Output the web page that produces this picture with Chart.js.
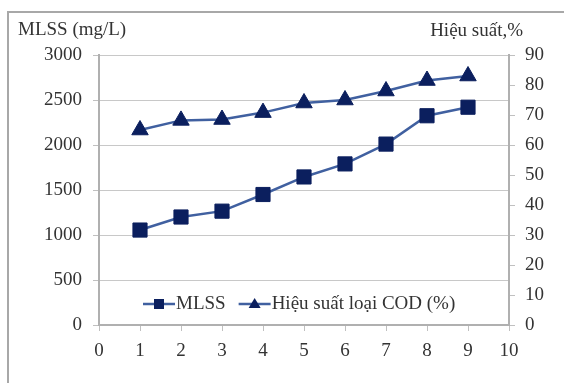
<!DOCTYPE html>
<html>
<head>
<meta charset="utf-8">
<script src="https://cdn.jsdelivr.net/npm/chart.js@4.4.1/dist/chart.umd.min.js"></script>
<style>
  html, body { margin: 0; padding: 0; background: #fff; overflow: hidden; }
  #frame { position: absolute; left: 7px; top: 11px; width: 700px; height: 460px; border: 2px solid #a8a8a8; }
  #wrap { position: absolute; left: 0; top: 0; width: 564px; height: 383px; }
</style>
</head>
<body>
<div id="frame"></div>
<div id="wrap"><canvas class="cod-chart" width="564" height="383"></canvas></div>
<script>
const days = [1, 2, 3, 4, 5, 6, 7, 8, 9];
const mlss = [1055, 1200, 1265, 1450, 1645, 1790, 2010, 2325, 2420];
const codRemoval = [65, 68.2, 68.5, 70.8, 74, 75, 78, 81.5, 83];
const leftTitle = "MLSS (mg/L)";
const rightTitle = "Hiệu suất,%";
const seriesNames = ["MLSS", "Hiệu suất loại COD (%)"];

const navy = "#0b1f5e";
const lineBlue = "#4060a0";
const font = "19px 'Liberation Serif', 'Times New Roman', serif";
const plain = (v) => String(v);

// axis titles and the in-plot legend
const extras = {
  id: "extras",
  afterDraw(chart) {
    const ctx = chart.ctx;
    const area = chart.chartArea;
    ctx.save();
    ctx.font = font;
    ctx.fillStyle = "#333";
    ctx.textBaseline = "middle";
    ctx.textAlign = "left";
    ctx.fillText(leftTitle, 18, 30);
    ctx.textAlign = "right";
    ctx.fillText(rightTitle, 523, 31);

    const y = area.bottom - 21;
    let x = area.left + 44;
    const styles = ["rect", "triangle"];
    seriesNames.forEach((name, i) => {
      ctx.strokeStyle = lineBlue;
      ctx.lineWidth = 2.5;
      ctx.beginPath();
      ctx.moveTo(x, y);
      ctx.lineTo(x + 32, y);
      ctx.stroke();
      ctx.fillStyle = navy;
      const cx = x + 16;
      ctx.beginPath();
      if (styles[i] === "rect") {
        ctx.rect(cx - 5, y - 5, 10, 10);
      } else {
        ctx.moveTo(cx, y - 6);
        ctx.lineTo(cx + 6, y + 4);
        ctx.lineTo(cx - 6, y + 4);
        ctx.closePath();
      }
      ctx.fill();
      ctx.fillStyle = "#333";
      ctx.textAlign = "left";
      ctx.fillText(name, x + 33, y);
      x += 33 + ctx.measureText(name).width + 13;
    });
    ctx.restore();
  }
};

function renderChart() {
  const ctx = document.querySelector(".cod-chart").getContext("2d");

  const mlssPts = days.map((d, i) => ({ x: d, y: mlss[i] }));
  const codPts = days.map((d, i) => ({ x: d, y: codRemoval[i] }));

  new Chart(ctx, {
    type: "line",
    data: {
      datasets: [{
        label: seriesNames[0],
        data: mlssPts,
        yAxisID: "y",
        borderColor: lineBlue,
        borderWidth: 2.5,
        pointStyle: "rect",
        pointRadius: 10,
        pointBackgroundColor: navy,
        pointBorderColor: navy,
        pointBorderWidth: 1,
        tension: 0
      }, {
        label: seriesNames[1],
        data: codPts,
        yAxisID: "y1",
        borderColor: lineBlue,
        borderWidth: 2.5,
        pointStyle: "triangle",
        pointRadius: 9.5,
        pointBackgroundColor: navy,
        pointBorderColor: navy,
        pointBorderWidth: 1,
        tension: 0
      }]
    },
    options: {
      responsive: false,
      animation: false,
      layout: { padding: { top: 55, left: 0, right: 0, bottom: 0 } },
      plugins: {
        legend: { display: false },
        tooltip: { enabled: false }
      },
      scales: {
        x: {
          type: "linear",
          min: 0,
          max: 10,
          afterFit: (s) => { s.height = 58; },
          ticks: { stepSize: 1, callback: plain, color: "#333", font: { family: "'Liberation Serif'", size: 19 }, padding: 9 },
          grid: { drawOnChartArea: false, tickLength: 6, color: "#c0c0c0" },
          border: { color: "#b0b0b0", width: 2 }
        },
        y: {
          position: "left",
          min: 0,
          max: 3000,
          afterFit: (s) => { s.width = 99; },
          ticks: { stepSize: 500, callback: plain, color: "#333", font: { family: "'Liberation Serif'", size: 19 }, padding: 11 },
          grid: { color: "#c8c8c8", borderDash: [2, 2], tickBorderDash: [], tickColor: "#c0c0c0", tickLength: 6 },
          border: { color: "#b0b0b0", width: 2 }
        },
        y1: {
          position: "right",
          min: 0,
          max: 90,
          afterFit: (s) => { s.width = 55; },
          ticks: { stepSize: 10, callback: plain, color: "#333", font: { family: "'Liberation Serif'", size: 19 }, padding: 10 },
          grid: { drawOnChartArea: false, tickLength: 6, color: "#c0c0c0" },
          border: { color: "#b0b0b0", width: 2 }
        }
      }
    },
    plugins: [extras]
  });
}

renderChart();
</script>
</body>
</html>
